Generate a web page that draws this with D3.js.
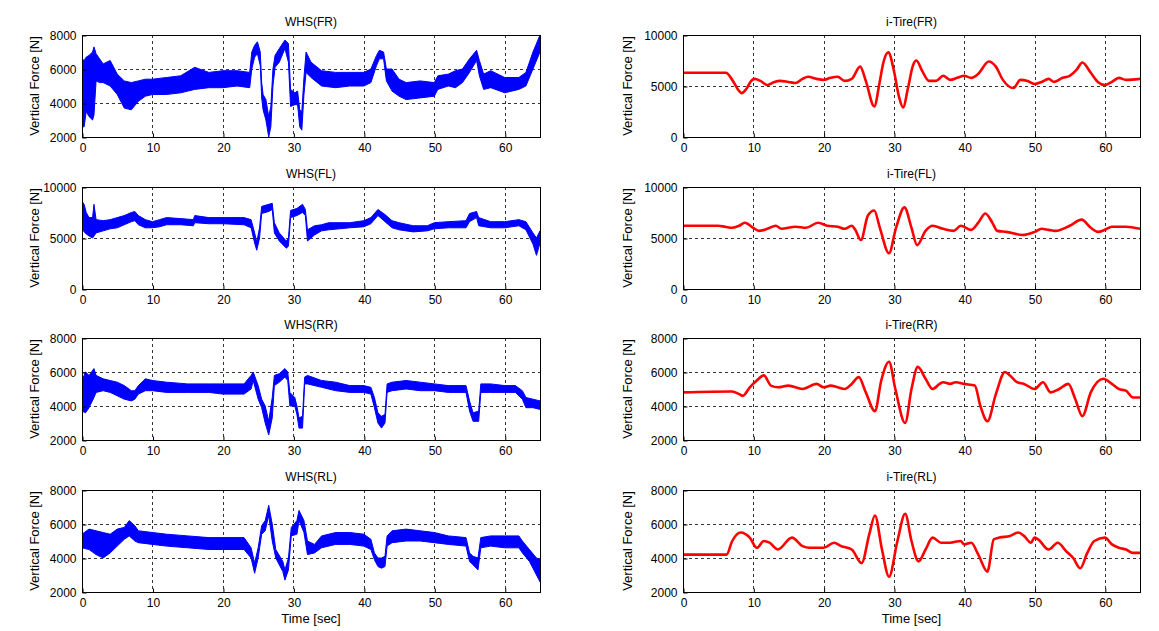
<!DOCTYPE html>
<html><head><meta charset="utf-8">
<script src="https://cdn.jsdelivr.net/npm/d3@7"></script>
<style>
body{margin:0;background:#fff;}
text{font-family:"Liberation Sans",Arial,sans-serif;fill:#000;}
</style></head><body>
<svg id="c" width="1159" height="631"></svg>
<script>
// ---- data ----
const xTicks = [0,10,20,30,40,50,60];
const yTicks8k = [2000,4000,6000,8000];
const yTicks10k = [0,5000,10000];
const titlesLeft = ["WHS(FR)","WHS(FL)","WHS(RR)","WHS(RL)"];
const titlesRight = ["i-Tire(FR)","i-Tire(FL)","i-Tire(RR)","i-Tire(RL)"];

// WHS: [time, lower envelope, upper envelope]
const whsFR = [[0,2600,6600],[0.3,2600,6500],[0.6,3500,6700],[1,3200,6800],[1.5,3000,7000],[1.7,3300,7300],[2,5300,6900],[2.5,5200,6600],[3,5200,6300],[4,5000,6500],[5,4500,5700],[6,3700,5300],[7,3600,5200],[8,4100,5300],[9,4400,5400],[10,4500,5400],[12,4500,5500],[14,4600,5600],[16,4800,6100],[18,4900,5800],[20,4900,5900],[22,5000,5900],[23.8,4900,5800],[24.1,6000,7000],[24.5,6700,7400],[24.9,6900,7600],[25.3,6200,7000],[25.5,4300,5200],[25.7,3600,4500],[26.1,3000,4200],[26.5,2000,3200],[26.8,2600,3800],[27.1,5000,6000],[27.4,6100,6800],[28,6400,7200],[28.8,7200,7700],[29.3,6400,7500],[29.6,3800,4800],[30.2,3900,4600],[30.6,3900,4700],[30.9,2600,3600],[31.2,2400,3500],[31.5,4500,5500],[31.8,5800,7000],[32.5,5500,6400],[34,5000,5900],[36,4900,5800],[38,5000,5800],[40,5000,5800],[41,5200,6000],[41.8,6200,6800],[42.2,6600,7100],[42.8,6600,7000],[43.2,5300,6000],[44,4700,6000],[45,4400,5400],[46,4200,5200],[48,4300,5300],[50,4400,5200],[50.5,4800,5600],[52,5000,5700],[53,4900,5900],[54,5200,6000],[55,5800,6600],[56,6500,7100],[56.4,5600,6500],[57,4800,5700],[58,4900,5900],[60,4600,5500],[62,4800,5500],[63,5000,5800],[64,6000,7000],[65,7000,8000]];
const whsFL = [[0,6000,8600],[0.3,5600,8300],[0.6,5400,7500],[1,5200,7000],[1.5,5000,7000],[1.7,5200,8300],[2,5500,6800],[3,5700,6700],[4,5900,6800],[5,6000,7000],[6,6300,7200],[7,6600,7500],[7.5,6700,7600],[8,6300,7200],[9,6000,6800],[10,6000,6600],[11,6100,6800],[12,6300,7000],[14,6300,6900],[15.8,6200,6800],[16,6500,7200],[18,6400,7000],[20,6400,7000],[23,6300,7000],[24,6000,6800],[24.5,4500,5500],[24.8,3800,4600],[25.2,5000,6000],[25.5,7400,8100],[26.5,7600,8300],[27,7800,8400],[27.3,5500,6500],[28,4700,5500],[29,4000,4700],[29.3,4200,5000],[29.6,7000,7700],[30.5,7200,7900],[31.3,7500,8300],[31.7,7200,7800],[32,4700,5800],[33,5300,6200],[34,5700,6300],[35,5800,6500],[38,6000,6500],[40,6100,6700],[41,6400,7000],[42,7200,7800],[43,6600,7300],[44,6000,6700],[45,5800,6500],[47,5600,6200],[49,5700,6200],[50,5900,6500],[52,6000,6600],[54.5,6000,6700],[55,6600,7400],[56,7000,7600],[56.3,6200,7000],[58,6000,6600],[60,6000,6600],[62,6200,6800],[63,5800,6600],[64,4400,5500],[64.5,3300,5000],[65,4500,5700]];
const whsRR = [[0,3700,5500],[0.5,3600,6000],[1,3900,5800],[1.7,4500,6200],[2,4800,5800],[3,4900,5600],[4,4800,5500],[5,4600,5400],[6,4400,5200],[7,4300,4900],[7.5,4400,4900],[8,4700,5200],[9,4900,5600],[10,4900,5500],[12,4800,5400],[15,4800,5300],[18,4800,5300],[20,4700,5300],[23,4700,5300],[24,5000,5800],[24.3,5500,6000],[25,4400,5200],[25.5,3900,4400],[26,3000,4000],[26.5,2300,3100],[27,3300,4500],[27.3,5200,5800],[28,5400,5900],[28.8,5700,6200],[29.2,5500,6000],[29.5,4000,4800],[30.2,4000,4500],[30.5,3500,4000],[30.8,2700,3300],[31.3,2700,3400],[31.6,5300,5700],[32,5300,5800],[34,5100,5500],[36,4900,5400],[38,4800,5200],[40,4800,5200],[41,4700,5100],[41.5,3900,4500],[42,3000,3600],[42.5,2700,3400],[43,3000,3500],[43.3,4800,5300],[44,4900,5400],[46,5000,5500],[48,4900,5400],[50,4900,5300],[52,4800,5200],[54.5,4800,5200],[55,3700,4300],[55.5,3100,3600],[56.3,3100,3700],[56.6,4800,5300],[58,4800,5300],[60,4800,5200],[61.5,4800,5200],[62.5,4400,4900],[63,3900,4500],[64,3900,4400],[65,3800,4300]];
const whsRL = [[0,4600,5400],[1,4500,5700],[2,4200,5600],[3,4000,5500],[4,4300,5400],[5,4700,5700],[6,5100,5800],[6.7,5300,6200],[7.5,5000,5900],[8,4900,5600],[10,4800,5500],[12,4700,5400],[15,4600,5300],[18,4500,5200],[20,4500,5200],[23,4500,5200],[24,4000,4600],[24.5,3100,3700],[25,4000,4600],[25.5,5400,5900],[26,5600,6200],[26.5,6500,7100],[27,5000,6000],[27.5,4000,4500],[28.5,3200,3800],[28.8,2700,3300],[29.3,3300,4000],[29.7,5300,5800],[30.5,5400,6200],[30.8,6200,6800],[31.5,5500,6200],[32,4200,5000],[33,4300,4800],[34,4600,5300],[36,4800,5500],[38,4800,5500],[40,4700,5400],[41,4500,5100],[41.5,3900,4300],[42,3500,4000],[42.5,3400,4000],[43,3500,4100],[43.3,4700,5300],[44,4900,5600],[46,5000,5700],[48,5000,5600],[50,4900,5500],[52,4800,5300],[54.5,4700,5200],[55,3800,4300],[55.5,3600,4100],[56.2,3300,4000],[56.6,4600,5200],[58,4700,5300],[60,4600,5300],[62,4600,5300],[62.5,4300,5000],[63.5,3800,4500],[64.5,3000,4000],[65,2600,3900]];

// i-Tire: [time, value]
const itFR = [[0,6300],[6.1,6300],[7,5600],[8,4500],[8.3,4300],[9,4700],[9.7,5500],[10.2,5700],[11,5500],[12,5100],[13,5400],[13.8,5500],[15,5400],[16,5300],[17,5700],[17.8,5900],[19,5700],[20,5600],[21,5800],[22,5900],[23,5500],[24,5700],[25.2,6900],[26,5500],[27.2,3000],[28,5500],[28.5,7300],[29.2,8300],[30,6500],[30.7,4000],[31.3,2900],[32,4800],[32.7,7000],[33.2,7500],[34,6500],[35,5500],[36,5500],[37,6000],[38,5600],[39,5800],[40,6000],[41,5800],[42,6200],[43.5,7400],[44.5,6900],[45.5,5600],[47,4800],[48,5600],[49,5500],[50,5200],[51,5400],[52,5700],[52.8,5400],[54,5800],[55,6000],[56,6600],[56.8,7300],[58,6300],[59,5400],[60,5100],[61,5400],[62,5800],[63,5600],[65,5700]];
const itFL = [[0,6200],[5,6200],[6,6100],[7,6000],[8,6200],[8.8,6500],[10,6000],[10.8,5700],[12,5900],[13.2,6200],[14,5900],[16,6100],[17.5,6000],[19.2,6500],[20.5,6200],[22,6100],[23,5900],[24,6200],[24.5,5800],[25.3,4800],[26.3,7200],[27.2,7700],[28,6000],[29.3,3500],[30.3,6000],[31.5,8000],[32.5,6000],[33.3,4300],[34.5,5700],[35.5,6200],[37,5900],[38.5,5700],[39.5,6200],[41,5800],[42,6500],[43,7400],[44,6500],[44.7,5700],[46,5600],[48.3,5300],[50,5600],[51,5900],[52,5800],[53,5700],[55,6200],[56.7,6800],[58,6000],[59,5600],[60,5800],[61,6100],[63,6100],[65,5900]];
const itRR = [[0,4800],[7,4850],[8,4700],[8.5,4600],[9.5,5100],[10.5,5500],[11.5,5800],[12.5,5200],[13.5,5100],[15,5200],[17,5000],[19,5300],[20,5100],[21,5200],[22,5100],[23,5000],[24,5300],[25,5700],[26,4800],[27.3,3700],[28.2,5500],[29.3,6600],[30.2,5000],[31.6,3000],[32.5,5000],[33.4,6300],[34.5,5600],[35.5,5000],[36.5,5300],[37,5400],[38,5300],[38.8,5400],[40,5300],[41.5,5200],[42.3,4000],[43.3,3100],[44.5,4700],[45.8,6000],[46.5,5800],[47.5,5400],[48.5,5300],[50,5000],[51.2,5400],[52.3,4800],[53.5,5000],[54.8,5300],[55.8,4400],[56.8,3400],[58,4800],[59.8,5600],[61,5300],[62,5000],[63,4900],[64,4500],[65,4500]];
const itRL = [[0,4200],[6.2,4200],[7,5000],[8.2,5500],[9.5,5200],[10.5,4600],[11.5,5000],[12.3,4900],[13.5,4500],[15.5,5200],[17,4700],[18,4600],[20,4600],[21.5,4900],[22.5,4700],[24,4500],[25.4,3700],[26.5,5400],[27.3,6500],[28.3,4500],[29.3,2900],[30.5,5000],[31.6,6600],[32.5,5000],[33.5,3800],[34.5,4500],[35.5,5200],[36.7,4900],[38,4900],[39.5,5000],[40,4800],[41,4900],[42,4200],[43.3,3200],[44.2,5100],[45,5200],[46.5,5300],[47.7,5500],[48.5,5300],[49.5,4900],[50,5200],[50.5,5100],[52,4500],[53.3,4900],[54.5,4400],[55.5,4000],[56.5,3400],[57.5,4300],[58.5,5000],[60,5200],[61,4800],[62,4600],[63,4500],[64,4300],[65,4300]];

// ---- layout ----
const svg = d3.select("#c");
const colX = [82, 683], colW = [458, 457];
const rowY = [35, 187, 338, 490], rowH = 102;

const panels = [
  {col:0,row:0,title:titlesLeft[0],dom:[2000,8000],ticks:yTicks8k,band:whsFR},
  {col:0,row:1,title:titlesLeft[1],dom:[0,10000],ticks:yTicks10k,band:whsFL},
  {col:0,row:2,title:titlesLeft[2],dom:[2000,8000],ticks:yTicks8k,band:whsRR},
  {col:0,row:3,title:titlesLeft[3],dom:[2000,8000],ticks:yTicks8k,band:whsRL},
  {col:1,row:0,title:titlesRight[0],dom:[0,10000],ticks:yTicks10k,line:itFR},
  {col:1,row:1,title:titlesRight[1],dom:[0,10000],ticks:yTicks10k,line:itFL},
  {col:1,row:2,title:titlesRight[2],dom:[2000,8000],ticks:yTicks8k,line:itRR},
  {col:1,row:3,title:titlesRight[3],dom:[2000,8000],ticks:yTicks8k,line:itRL},
];

panels.forEach((p,i)=>{
  const x0 = colX[p.col], y0 = rowY[p.row], w = colW[p.col], h = rowH;
  const x = d3.scaleLinear().domain([0,65]).range([0,w]);
  const y = d3.scaleLinear().domain(p.dom).range([h,0]);
  const g = svg.append("g").attr("transform",`translate(${x0},${y0})`);
  const clipId = "clip"+i;
  g.append("clipPath").attr("id",clipId).append("rect").attr("width",w).attr("height",h);

  // grid
  const gx = xTicks.filter(t=>t>0 && t<65);
  g.selectAll(".gx").data(gx).enter().append("line")
    .attr("x1",d=>Math.round(x(d))+0.5).attr("x2",d=>Math.round(x(d))+0.5)
    .attr("y1",0).attr("y2",h)
    .attr("stroke","#000").attr("stroke-width",0.8).attr("stroke-dasharray","3,3");
  const gy = p.ticks.filter(t=>t>p.dom[0] && t<p.dom[1]);
  g.selectAll(".gy").data(gy).enter().append("line")
    .attr("y1",d=>Math.round(y(d))+0.5).attr("y2",d=>Math.round(y(d))+0.5)
    .attr("x1",0).attr("x2",w)
    .attr("stroke","#000").attr("stroke-width",0.8).attr("stroke-dasharray","3,3");

  const plot = g.append("g").attr("clip-path",`url(#${clipId})`);
  if(p.band){
    const area = d3.area().x(d=>x(d[0])).y0(d=>y(d[1])).y1(d=>y(d[2]));
    plot.append("path").datum(p.band).attr("d",area)
      .attr("fill","#0000ff").attr("stroke","#0000ff").attr("stroke-width",1);
  }
  if(p.line){
    const line = d3.line().x(d=>x(d[0])).y(d=>y(d[1])).curve(d3.curveMonotoneX);
    plot.append("path").datum(p.line).attr("d",line)
      .attr("fill","none").attr("stroke","#ff0000").attr("stroke-width",2.6);
  }

  // box
  g.append("rect").attr("x",0.5).attr("y",0.5).attr("width",w).attr("height",h)
    .attr("fill","none").attr("stroke","#000").attr("stroke-width",1);

  // axes
  const ax = g.append("g").attr("transform",`translate(0.5,${h+0.5})`)
    .call(d3.axisBottom(x).tickValues(xTicks).tickSize(-4).tickPadding(6).tickFormat(d3.format("d")));
  const ay = g.append("g").attr("transform","translate(0.5,0.5)")
    .call(d3.axisLeft(y).tickValues(p.ticks).tickSize(-4).tickPadding(6).tickFormat(d3.format("d")));
  [ax,ay].forEach(a=>{
    a.select(".domain").remove();
    a.selectAll("line").attr("stroke","#000");
    a.selectAll("text").style("font-size","12px").attr("fill","#000");
  });

  // title
  g.append("text").attr("x",w/2).attr("y",-9).attr("text-anchor","middle")
    .style("font-size","12px").text(p.title);
  // y label
  g.append("text").attr("transform",`translate(${p.col===0?-43:-51},${h/2}) rotate(-90)`)
    .attr("text-anchor","middle").style("font-size","13px").text("Vertical Force [N]");
  if(p.row===3){
    g.append("text").attr("x",w/2).attr("y",h+31).attr("text-anchor","middle")
      .style("font-size","13px").text("Time [sec]");
  }
});
</script>
</body></html>
